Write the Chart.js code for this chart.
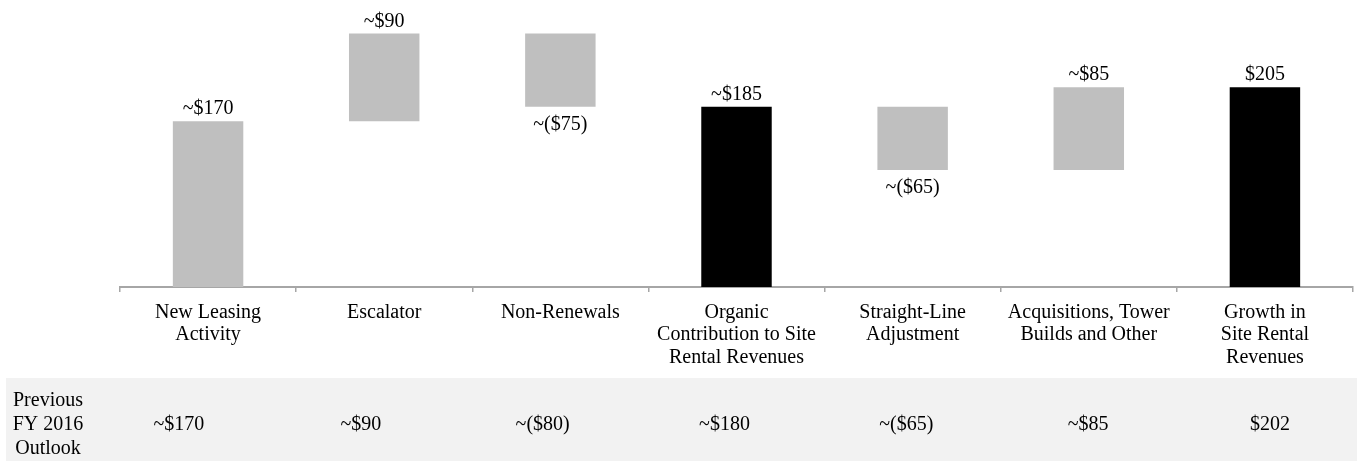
<!DOCTYPE html>
<html>
<head>
<meta charset="utf-8">
<script src="https://cdn.jsdelivr.net/npm/chart.js@4"></script>
<style>
  body { margin: 0; background: #fff; }
  #wrap { position: relative; width: 1361px; height: 461px; }
</style>
</head>
<body>
<div id="wrap"><canvas id="waterfallChart"></canvas></div>
<script>
// Waterfall values (in $ millions)
const categories = [
    ['New Leasing', 'Activity'],
    ['Escalator'],
    ['Non-Renewals'],
    ['Organic', 'Contribution to Site', 'Rental Revenues'],
    ['Straight-Line', 'Adjustment'],
    ['Acquisitions, Tower', 'Builds and Other'],
    ['Growth in', 'Site Rental', 'Revenues']
];
const barStart = [0, 170, 260, 0, 185, 120, 0];
const barEnd = [170, 260, 185, 185, 120, 205, 205];
const isTotal = [false, false, false, true, false, false, true];
const valueLabels = ['~$170', '~$90', '~($75)', '~$185', '~($65)', '~$85', '$205'];

const outlookTitle = ['Previous', 'FY 2016', 'Outlook'];
const previousOutlook = ['~$170', '~$90', '~($80)', '~$180', '~($65)', '~$85', '$202'];

const FONT = '"Liberation Serif", "Times New Roman", serif';

// value labels above rising bars, below falling ones
const barLabels = {
    id: 'barLabels',
    afterDatasetsDraw(chart) {
        const ctx = chart.ctx;
        const meta = chart.getDatasetMeta(0);
        ctx.save();
        ctx.font = '20px ' + FONT;
        ctx.fillStyle = '#000';
        ctx.textAlign = 'center';
        ctx.textBaseline = 'alphabetic';
        meta.data.forEach(function(bar, i) {
            const top = Math.min(bar.y, bar.base);
            const bottom = Math.max(bar.y, bar.base);
            if (barEnd[i] < barStart[i]) {
                ctx.fillText(valueLabels[i], bar.x, bottom + 23);
            } else {
                ctx.fillText(valueLabels[i], bar.x, top - 7);
            }
        });
        ctx.restore();
    }
};

// "Previous FY 2016 Outlook" row under the axis
const outlookRow = {
    id: 'outlookRow',
    beforeDraw(chart) {
        const ctx = chart.ctx;
        ctx.save();
        ctx.fillStyle = '#f2f2f2';
        ctx.fillRect(6, 378, 1351, 83);
        ctx.restore();
    },
    afterDraw(chart) {
        const ctx = chart.ctx;
        ctx.save();
        ctx.font = '20px ' + FONT;
        ctx.fillStyle = '#000';
        ctx.textAlign = 'center';
        ctx.textBaseline = 'middle';
        outlookTitle.forEach(function(line, i) {
            ctx.fillText(line, 48, 401 + i * 24);
        });
        const colLeft = 88;
        const colWidth = (chart.width - colLeft) / previousOutlook.length;
        previousOutlook.forEach(function(txt, i) {
            ctx.fillText(txt, colLeft + colWidth * (i + 0.5), 425);
        });
        ctx.restore();
    }
};

new Chart(document.getElementById('waterfallChart').getContext('2d'), {
    type: 'bar',
    data: {
        labels: categories,
        datasets: [{
            data: barStart.map(function(s, i) { return [s, barEnd[i]]; }),
            backgroundColor: isTotal.map(function(t) { return t ? '#000000' : '#bfbfbf'; }),
            borderWidth: 0,
            categoryPercentage: 1,
            barPercentage: 0.4
        }]
    },
    options: {
        responsive: true,
        maintainAspectRatio: false,
        animation: false,
        layout: {
            padding: { left: 120, right: 8, top: 14, bottom: 0 }
        },
        scales: {
            x: {
                grid: {
                    display: true,
                    drawOnChartArea: false,
                    drawTicks: true,
                    tickLength: 5,
                    color: '#a6a6a6',
                    lineWidth: 1.5
                },
                border: { display: true, color: '#a6a6a6', width: 2 },
                ticks: {
                    color: '#000',
                    font: { family: FONT, size: 20, lineHeight: 1.13 },
                    padding: 9,
                    maxRotation: 0,
                    autoSkip: false
                },
                afterFit: function(scale) { scale.height = 174; }
            },
            y: {
                display: false,
                min: 0,
                max: 280
            }
        },
        plugins: {
            legend: { display: false },
            tooltip: { enabled: false }
        }
    },
    plugins: [barLabels, outlookRow]
});
</script>
</body>
</html>
